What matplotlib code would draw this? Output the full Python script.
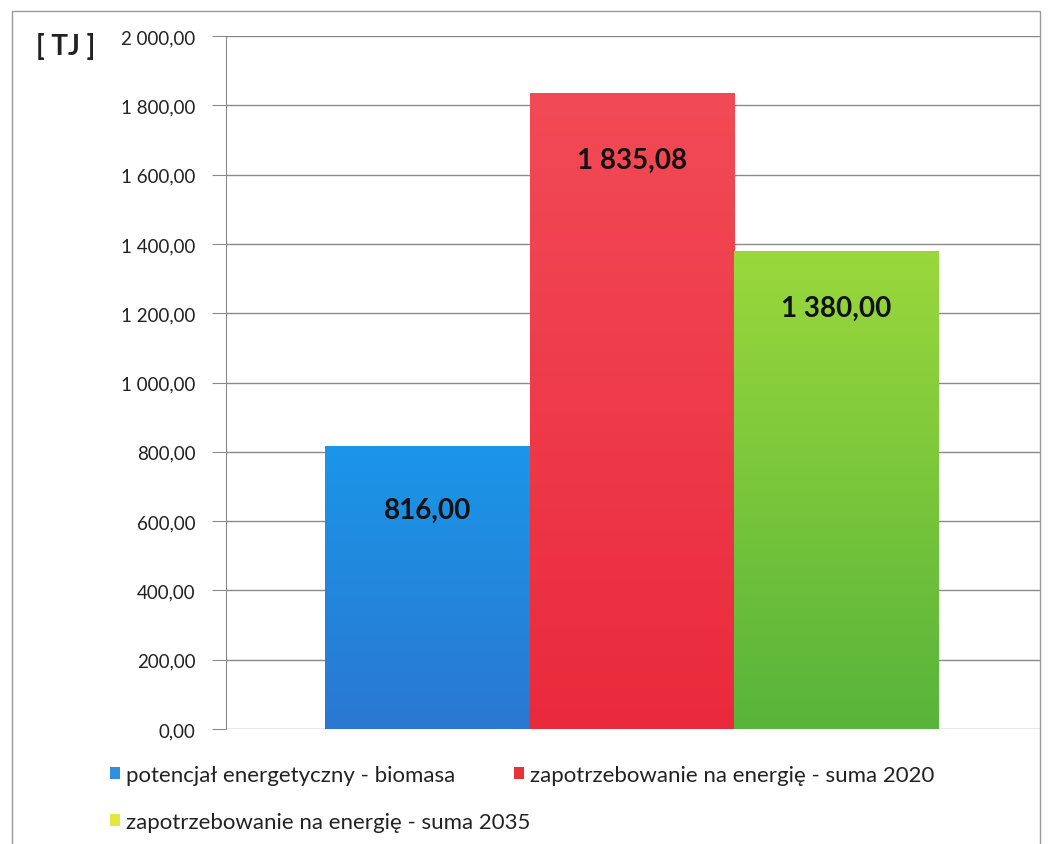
import numpy as np
import matplotlib
matplotlib.use("Agg")
import matplotlib.pyplot as plt
from matplotlib.colors import LinearSegmentedColormap
from matplotlib.patches import Patch, Rectangle
from matplotlib.ticker import FuncFormatter, MultipleLocator

plt.rcParams['font.family'] = ['Lato', 'DejaVu Sans']

series = ['potencjał energetyczny - biomasa',
          'zapotrzebowanie na energię - suma 2020',
          'zapotrzebowanie na energię - suma 2035']
values = [816.00, 1835.08, 1380.00]
legend_colors = ['#2e8fe0', '#e8323c', '#e6e640']
grad_top = ['#1a96e8', '#f24a56', '#9ad83c']
grad_bot = ['#2a78d2', '#ea2a3c', '#58b43a']


def pl_num(v, pos=None):
    s = f"{v:,.2f}"
    return s.replace(",", " ").replace(".", ",")


fig = plt.figure(figsize=(10.51, 8.45), dpi=100)
ax = fig.add_axes([226 / 1051, 115 / 845, (1040 - 226) / 1051, (730 - 37) / 845])

x = np.arange(len(values))
bars = ax.bar(x, values, width=1.0, color=legend_colors, zorder=2)
for b, c1, c2 in zip(bars, grad_top, grad_bot):
    cmap = LinearSegmentedColormap.from_list('g', [c2, c1])
    x0, y0 = b.get_x(), b.get_y()
    w, h = b.get_width(), b.get_height()
    im = ax.imshow(np.linspace(0, 1, 256).reshape(-1, 1), cmap=cmap, origin='lower',
                   extent=[x0, x0 + w, y0, y0 + h], aspect='auto', zorder=3)
    im.set_clip_path(b)

for xi, v, off in zip(x, values, [-46, -48, -41]):
    ax.annotate(pl_num(v), (xi, v), xytext=(0, off), textcoords='offset points',
                ha='center', va='center', fontsize=20, fontweight='bold',
                color='#111111', zorder=5)

ax.set_xlim(-0.985, 2.995)
ax.set_ylim(0, 2000)
ax.yaxis.set_major_locator(MultipleLocator(200))
ax.yaxis.set_major_formatter(FuncFormatter(pl_num))
ax.set_xticks([])
ax.grid(axis='y', color='#8a8a8a', linewidth=1.0, zorder=0)
for s in ['top', 'right', 'bottom']:
    ax.spines[s].set_visible(False)
ax.spines['left'].set_color('#8a8a8a')
ax.tick_params(axis='y', length=10, color='#8a8a8a', labelsize=13.5, pad=12,
               labelcolor='#222222')

fig.text(36 / 1051, 1 - 47 / 845, '[ TJ ]', fontsize=20, fontweight='bold',
         ha='left', va='center', color='#222222')

handles = [Patch(facecolor=c) for c in legend_colors]
leg_kw = dict(loc='upper left', frameon=False, fontsize=16, handlelength=0.45,
              handleheight=0.45, handletextpad=0.25, labelspacing=1.2,
              borderaxespad=0, borderpad=0)
leg1 = fig.legend([handles[0], handles[2]], [series[0], series[2]],
                  bbox_to_anchor=(110 / 1051, 1 - 766 / 845), **leg_kw)
leg2 = fig.legend([handles[1]], [series[1]],
                  bbox_to_anchor=(514 / 1051, 1 - 766 / 845), **leg_kw)
for lg in (leg1, leg2):
    for t in lg.get_texts():
        t.set_color('#222222')

fig.patches.append(Rectangle((12 / 1051, -0.01), (1040 - 12) / 1051, 1 - 12 / 845 + 0.01,
                             transform=fig.transFigure, fill=False,
                             edgecolor='#9a9a9a', linewidth=1.0))

fig.savefig('out.png', dpi=100)
